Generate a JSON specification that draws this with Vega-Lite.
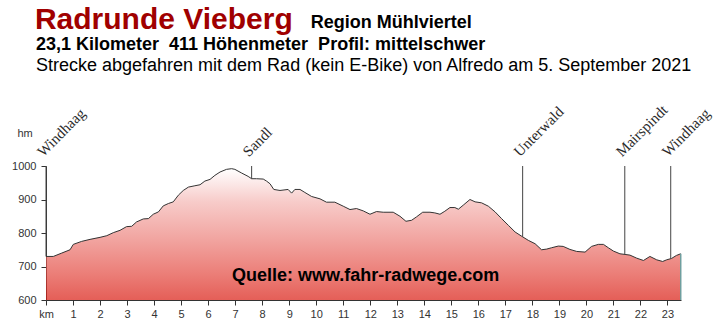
{
  "$schema": "https://vega.github.io/schema/vega-lite/v6.json",
  "width": 635,
  "height": 134,
  "autosize": {"type": "none"},
  "padding": {"left": 46, "top": 166, "right": 45, "bottom": 24},
  "background": "white",
  "config": {
    "view": {"stroke": null},
    "font": "Liberation Sans",
    "axis": {"labelOverlap": false, "labelFlush": false, "grid": false},
    "axisX": {"tickCount": 24},
    "axisY": {"tickCount": 5}
  },
  "datasets": {
    "profile": [
      {"km": 0, "hm": 730}, {"km": 0.27, "hm": 730}, {"km": 0.58, "hm": 740}, {"km": 0.89, "hm": 750},
      {"km": 1.01, "hm": 766}, {"km": 1.32, "hm": 775}, {"km": 1.63, "hm": 781}, {"km": 2.0, "hm": 787},
      {"km": 2.25, "hm": 792}, {"km": 2.49, "hm": 801}, {"km": 2.74, "hm": 808}, {"km": 2.98, "hm": 819},
      {"km": 3.17, "hm": 820}, {"km": 3.35, "hm": 833}, {"km": 3.6, "hm": 842}, {"km": 3.79, "hm": 843},
      {"km": 3.97, "hm": 856}, {"km": 4.16, "hm": 863}, {"km": 4.34, "hm": 881}, {"km": 4.53, "hm": 888},
      {"km": 4.71, "hm": 893}, {"km": 4.9, "hm": 913}, {"km": 5.08, "hm": 927}, {"km": 5.27, "hm": 937},
      {"km": 5.51, "hm": 941}, {"km": 5.7, "hm": 944}, {"km": 5.88, "hm": 955}, {"km": 6.07, "hm": 960},
      {"km": 6.25, "hm": 972}, {"km": 6.44, "hm": 982}, {"km": 6.68, "hm": 990}, {"km": 6.87, "hm": 992},
      {"km": 6.99, "hm": 990}, {"km": 7.24, "hm": 979}, {"km": 7.48, "hm": 969}, {"km": 7.61, "hm": 962},
      {"km": 7.79, "hm": 962}, {"km": 8.04, "hm": 961}, {"km": 8.16, "hm": 955}, {"km": 8.29, "hm": 947},
      {"km": 8.43, "hm": 930}, {"km": 8.66, "hm": 927}, {"km": 8.96, "hm": 930}, {"km": 9.09, "hm": 919},
      {"km": 9.21, "hm": 930}, {"km": 9.4, "hm": 930}, {"km": 9.58, "hm": 921}, {"km": 9.83, "hm": 909},
      {"km": 10.14, "hm": 902}, {"km": 10.38, "hm": 892}, {"km": 10.69, "hm": 892}, {"km": 11.0, "hm": 880},
      {"km": 11.25, "hm": 870}, {"km": 11.49, "hm": 873}, {"km": 11.74, "hm": 866}, {"km": 11.99, "hm": 856},
      {"km": 12.23, "hm": 864}, {"km": 12.48, "hm": 862}, {"km": 12.85, "hm": 862}, {"km": 13.1, "hm": 850},
      {"km": 13.32, "hm": 835}, {"km": 13.53, "hm": 838}, {"km": 13.71, "hm": 848}, {"km": 13.94, "hm": 862},
      {"km": 14.21, "hm": 862}, {"km": 14.39, "hm": 860}, {"km": 14.58, "hm": 856}, {"km": 14.76, "hm": 865},
      {"km": 14.95, "hm": 876}, {"km": 15.13, "hm": 876}, {"km": 15.26, "hm": 871}, {"km": 15.44, "hm": 883},
      {"km": 15.69, "hm": 900}, {"km": 15.88, "hm": 893}, {"km": 16.12, "hm": 890}, {"km": 16.37, "hm": 880},
      {"km": 16.62, "hm": 863}, {"km": 16.86, "hm": 843}, {"km": 17.11, "hm": 823}, {"km": 17.36, "hm": 803},
      {"km": 17.61, "hm": 790}, {"km": 17.85, "hm": 778}, {"km": 18.1, "hm": 768}, {"km": 18.34, "hm": 750},
      {"km": 18.53, "hm": 752}, {"km": 18.71, "hm": 756}, {"km": 18.96, "hm": 761}, {"km": 19.14, "hm": 760},
      {"km": 19.39, "hm": 751}, {"km": 19.64, "hm": 745}, {"km": 19.95, "hm": 743}, {"km": 20.19, "hm": 760},
      {"km": 20.44, "hm": 766}, {"km": 20.63, "hm": 766}, {"km": 20.81, "hm": 756}, {"km": 21.0, "hm": 746},
      {"km": 21.24, "hm": 738}, {"km": 21.43, "hm": 736}, {"km": 21.61, "hm": 734}, {"km": 21.86, "hm": 725},
      {"km": 22.11, "hm": 718}, {"km": 22.35, "hm": 730}, {"km": 22.6, "hm": 720}, {"km": 22.82, "hm": 715},
      {"km": 22.97, "hm": 720}, {"km": 23.15, "hm": 724}, {"km": 23.33, "hm": 733}, {"km": 23.49, "hm": 738}
    ],
    "orte": [
      {"ort": "Windhaag", "km": 0, "hm": 730},
      {"ort": "Sandl", "km": 7.61, "hm": 962},
      {"ort": "Unterwald", "km": 17.64, "hm": 789},
      {"ort": "Mairspindt", "km": 21.42, "hm": 736},
      {"ort": "Windhaag", "km": 23.12, "hm": 724}
    ]
  },
  "layer": [
    {
      "data": {"name": "profile"},
      "mark": {
        "type": "area",
        "color": {
          "gradient": "linear", "x1": 0, "y1": 0, "x2": 0, "y2": 1,
          "stops": [
            {"offset": 0, "color": "#ffffff"},
            {"offset": 0.25, "color": "#f4b6b3"},
            {"offset": 0.55, "color": "#eb7b75"},
            {"offset": 0.8, "color": "#e3473e"},
            {"offset": 1, "color": "#d91a10"}
          ]
        },
        "line": {"color": "#333333", "strokeWidth": 1}
      },
      "encoding": {
        "x": {
          "field": "km", "type": "quantitative",
          "scale": {"domain": [0, 23.5], "nice": false, "zero": false},
          "axis": {
            "values": [0,1,2,3,4,5,6,7,8,9,10,11,12,13,14,15,16,17,18,19,20,21,22,23],
            "tickCount": 24,
            "labelExpr": "datum.value == 0 ? 'km' : datum.label",
            "grid": false, "title": null,
            "domainColor": "#333333", "tickColor": "#333333", "labelColor": "#333333",
            "labelFontSize": 11, "tickSize": 5, "labelPadding": 3,
            "labelFlush": false, "labelOverlap": false
          }
        },
        "y": {
          "field": "hm", "type": "quantitative",
          "scale": {"domain": [600, 1000], "nice": false, "zero": false},
          "axis": {
            "values": [600, 700, 800, 900, 1000],
            "tickCount": 5,
            "format": "d",
            "grid": false, "title": "hm",
            "titleAngle": 0, "titleX": -29, "titleY": -33, "titleAlign": "left", "titleBaseline": "middle",
            "titleFontWeight": "normal", "titleFontSize": 11, "titleColor": "#333333",
            "domainColor": "#333333", "tickColor": "#333333", "labelColor": "#333333",
            "labelFontSize": 11, "tickSize": 5, "labelPadding": 5, "labelOverlap": false
          }
        },
        "y2": {"datum": 600}
      }
    },
    {
      "data": {"name": "profile"},
      "transform": [{"filter": "datum.km >= 23.49"}],
      "mark": {"type": "rule", "color": "#6f9f9f", "strokeWidth": 1.5},
      "encoding": {
        "x": {"field": "km", "type": "quantitative"},
        "y": {"field": "hm", "type": "quantitative"},
        "y2": {"datum": 600}
      }
    },
    {
      "data": {"name": "orte"},
      "mark": {"type": "rule", "color": "#444444", "strokeWidth": 1},
      "encoding": {
        "x": {"field": "km", "type": "quantitative"},
        "y": {"field": "hm", "type": "quantitative"},
        "y2": {"datum": 1000}
      }
    },
    {
      "data": {"name": "orte"},
      "mark": {
        "type": "text", "angle": 315, "align": "left", "baseline": "alphabetic",
        "font": "Liberation Serif", "fontSize": 15, "color": "#2a2a2a", "dx": 4, "dy": -8
      },
      "encoding": {
        "x": {"field": "km", "type": "quantitative"},
        "y": {"datum": 1000, "type": "quantitative"},
        "text": {"field": "ort"}
      }
    },
    {
      "data": {"values": [{}]},
      "mark": {"type": "text", "text": "Radrunde Vieberg", "align": "left", "baseline": "alphabetic",
        "fontSize": 30, "fontWeight": "bold", "color": "#a00000"},
      "encoding": {"x": {"datum": -0.41, "type": "quantitative"}, "y": {"datum": 1408, "type": "quantitative"}}
    },
    {
      "data": {"values": [{}]},
      "mark": {"type": "text", "text": "Region Mühlviertel", "align": "left", "baseline": "alphabetic",
        "fontSize": 18, "fontWeight": "bold", "color": "#000000"},
      "encoding": {"x": {"datum": 9.8, "type": "quantitative"}, "y": {"datum": 1411, "type": "quantitative"}}
    },
    {
      "data": {"values": [{}]},
      "mark": {"type": "text", "text": "23,1 Kilometer \u00a0411 Höhenmeter \u00a0Profil: mittelschwer", "align": "left", "baseline": "alphabetic",
        "fontSize": 18, "fontWeight": "bold", "color": "#000000"},
      "encoding": {"x": {"datum": -0.37, "type": "quantitative"}, "y": {"datum": 1345, "type": "quantitative"}}
    },
    {
      "data": {"values": [{}]},
      "mark": {"type": "text", "text": "Strecke abgefahren mit dem Rad (kein E-Bike) von Alfredo am 5. September 2021", "align": "left", "baseline": "alphabetic",
        "fontSize": 18, "fontWeight": "normal", "color": "#000000"},
      "encoding": {"x": {"datum": -0.37, "type": "quantitative"}, "y": {"datum": 1283, "type": "quantitative"}}
    },
    {
      "data": {"values": [{}]},
      "mark": {"type": "text", "text": "Quelle: www.fahr-radwege.com", "align": "left", "baseline": "alphabetic",
        "fontSize": 18, "fontWeight": "bold", "color": "#000000"},
      "encoding": {"x": {"datum": 6.88, "type": "quantitative"}, "y": {"datum": 657, "type": "quantitative"}}
    }
  ]
}
